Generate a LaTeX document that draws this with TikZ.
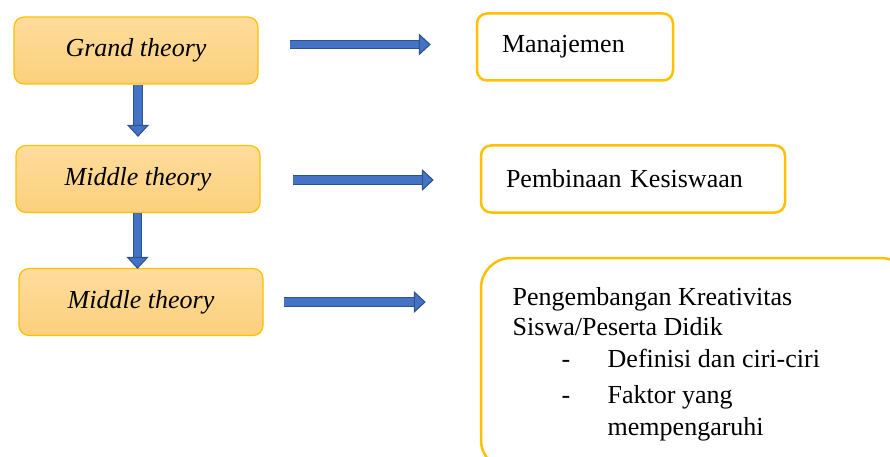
\documentclass[tikz,border=0pt]{standalone}
\usepackage{fontspec}
\setmainfont{Liberation Serif}
\usepackage{tikz}
\usetikzlibrary{arrows.meta, positioning}
\definecolor{boxgold}{HTML}{FFC000}
\definecolor{boxtop}{HTML}{FEDC9C}
\definecolor{boxbot}{HTML}{FCD07C}
\definecolor{arrowblue}{HTML}{4472C4}
\definecolor{arrowedge}{HTML}{2F528F}

\begin{document}
\begin{tikzpicture}[x=1pt, y=-1pt,
	theory/.style={draw=boxgold, line width=1.2pt, rounded corners=10pt, top color=boxtop, bottom color=boxbot,
		minimum width=244pt, minimum height=67pt, font=\fontsize{26}{30}\selectfont\itshape},
	topic/.style={draw=boxgold, line width=2.5pt, rounded corners=10pt, fill=white, minimum height=67pt,
		align=left, font=\fontsize{26}{30}\selectfont},
	blockarr/.style={draw=arrowedge, line width=1.1pt, double=arrowblue, double distance=7.5pt,
		-{Triangle[length=12pt, width=22pt, fill=arrowblue, line width=1.1pt]}}]
		\useasboundingbox (0,0) rectangle (890,457);
		\draw (136,50.5) node[theory] (g1) {Grand theory}
		(138,179) node[theory] (m1) {Middle theory}
		(141,302) node[theory] (m2) {Middle theory}
		(575,47) node[topic, minimum width=196pt, text width=146pt, inner xsep=25pt] (mj) {Manajemen}
		(633,179) node[topic, minimum width=304pt, text width=254pt, inner xsep=25pt] (pk) {Pembinaan Kesiswaan}
		(696,364) node[topic, minimum width=430pt, minimum height=212pt, rounded corners=30pt] (kr) {};
		\node[anchor=base west, align=left, font=\fontsize{26}{30}\selectfont, inner sep=0pt] (kt) at (512.5,435)
		{Pengembangan Kreativitas\\
		Siswa/Peserta Didik\\[2pt]
		\hspace*{49pt}\makebox[46pt][l]{-}Definisi dan ciri-ciri\\[6pt]
		\hspace*{49pt}\makebox[46pt][l]{-}Faktor yang\\[2pt]
		\hspace*{95pt}mempengaruhi};

		\draw[blockarr, shorten <=31pt, shorten >=45pt] ([yshift=6pt]g1.east) -- ([yshift=6pt]g1.east -| mj.west);
		\draw[blockarr, shorten <=32pt, shorten >=46pt] ([yshift=-1pt]m1.east) -- ([yshift=-1pt]m1.east -| pk.west);
		\draw[blockarr, shorten <=20pt, shorten >=54pt] (m2.east) -- (m2.east -| kr.west);
		\draw[blockarr, shorten >=8pt] (g1.south -| m1.north) -- (m1.north);
		\draw[blockarr, shorten >=-1pt] ([xshift=-0.5pt]m1.south) -- ([xshift=-3.5pt]m2.north);
	\end{tikzpicture}
\end{document}
